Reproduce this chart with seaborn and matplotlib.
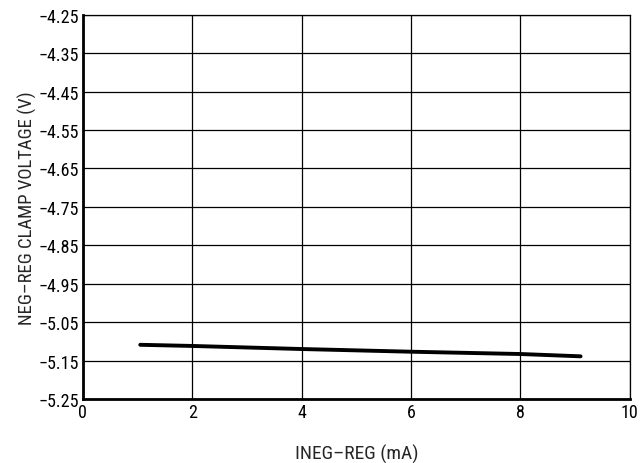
import numpy as np
import pandas as pd
import seaborn as sns
import matplotlib
matplotlib.use("Agg")
from matplotlib import pyplot as plt
from matplotlib import font_manager

# values
current_ma = [1.05, 2.0, 4.0, 6.0, 8.0, 9.1]
clamp_v = [-5.109, -5.112, -5.120, -5.127, -5.133, -5.139]
x_ticks = [0, 2, 4, 6, 8, 10]
y_ticks = [-5.25, -5.15, -5.05, -4.95, -4.85, -4.75, -4.65, -4.55, -4.45, -4.35, -4.25]


def pick_font():
    names = {f.name for f in font_manager.fontManager.ttflist}
    for name in ['Liberation Sans Narrow', 'Roboto Condensed', 'Liberation Sans', 'DejaVu Sans']:
        if name in names:
            return name
    return 'DejaVu Sans'


def main():
    sns.set_style('white')
    plt.rcParams['font.family'] = [pick_font(), 'DejaVu Sans']
    df = pd.DataFrame({'current': current_ma, 'voltage': clamp_v})

    fig = plt.figure(figsize=(6.42, 4.64), dpi=100)
    ax = fig.add_axes([0.129, 0.138, 0.852, 0.828])
    sns.lineplot(data=df, x='current', y='voltage', color='black',
                 linewidth=2.8, ax=ax, solid_capstyle='round')

    ax.set_xlim(0, 10)
    ax.set_ylim(-5.25, -4.25)
    ax.set_xticks(x_ticks)
    ax.set_yticks(y_ticks)
    ax.set_xticklabels([str(t) for t in x_ticks])
    ax.set_yticklabels([f'{t:.2f}'.replace('-', '\u2212') for t in y_ticks])
    ax.grid(True, color='black', linewidth=0.9)
    ax.tick_params(axis='both', length=0, labelsize=13, colors='black', pad=3)
    for side in ['top', 'right']:
        ax.spines[side].set_linewidth(0.9)
        ax.spines[side].set_color('black')
    for side in ['left', 'bottom']:
        ax.spines[side].set_linewidth(2.0)
        ax.spines[side].set_color('black')
    ax.set_xlabel('INEG\u2013REG (mA)', fontsize=14, labelpad=16)
    ax.set_ylabel('NEG\u2013REG CLAMP VOLTAGE (V)', fontsize=13.5, labelpad=1)

    fig.savefig('out.png', dpi=100)


if __name__ == "__main__":
    main()
